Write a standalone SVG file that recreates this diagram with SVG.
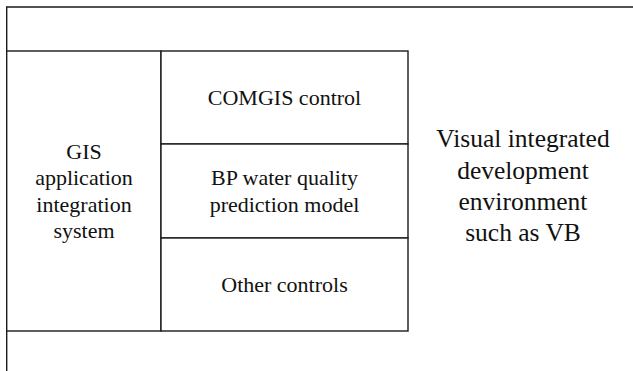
<svg xmlns="http://www.w3.org/2000/svg" width="633" height="371" viewBox="0 0 633 371">
  <style>
    .frame { fill: none; stroke: #1a1a1a; stroke-width: 1.4; }
    .box { fill: #ffffff; stroke: #1a1a1a; stroke-width: 1.4; }
    .label { font-family: "Liberation Serif", "Times New Roman", serif; font-size: 22px; fill: #111111; text-anchor: middle; }
    .big { font-size: 25.5px; }
  </style>
  <rect width="633" height="371" fill="#ffffff"/>

  <!-- Outer environment frame (runs off the right and bottom edges) -->
  <g id="ide-environment">
    <path class="frame" d="M6.7,371 V7 H633"/>
    <text class="label big" x="523" y="147">Visual integrated</text>
    <text class="label big" x="523" y="178.5">development</text>
    <text class="label big" x="523" y="209.5">environment</text>
    <text class="label big" x="523" y="240.5">such as VB</text>
  </g>

  <!-- GIS application integration system -->
  <g id="gis-system">
    <rect class="box" x="6.7" y="51" width="154.3" height="280"/>
    <text class="label" x="84" y="159">GIS</text>
    <text class="label" x="84" y="185">application</text>
    <text class="label" x="84" y="211.5">integration</text>
    <text class="label" x="84" y="237.5">system</text>
  </g>

  <!-- Controls stack -->
  <g id="comgis-control">
    <rect class="box" x="161" y="51" width="247" height="93"/>
    <text class="label" x="284.5" y="105">COMGIS control</text>
  </g>

  <g id="bp-model">
    <rect class="box" x="161" y="144" width="247" height="94"/>
    <text class="label" x="284.5" y="185">BP water quality</text>
    <text class="label" x="284.5" y="212">prediction model</text>
  </g>

  <g id="other-controls">
    <rect class="box" x="161" y="238" width="247" height="93"/>
    <text class="label" x="284.5" y="292.3">Other controls</text>
  </g>

  <g id="connectors"/>
</svg>
